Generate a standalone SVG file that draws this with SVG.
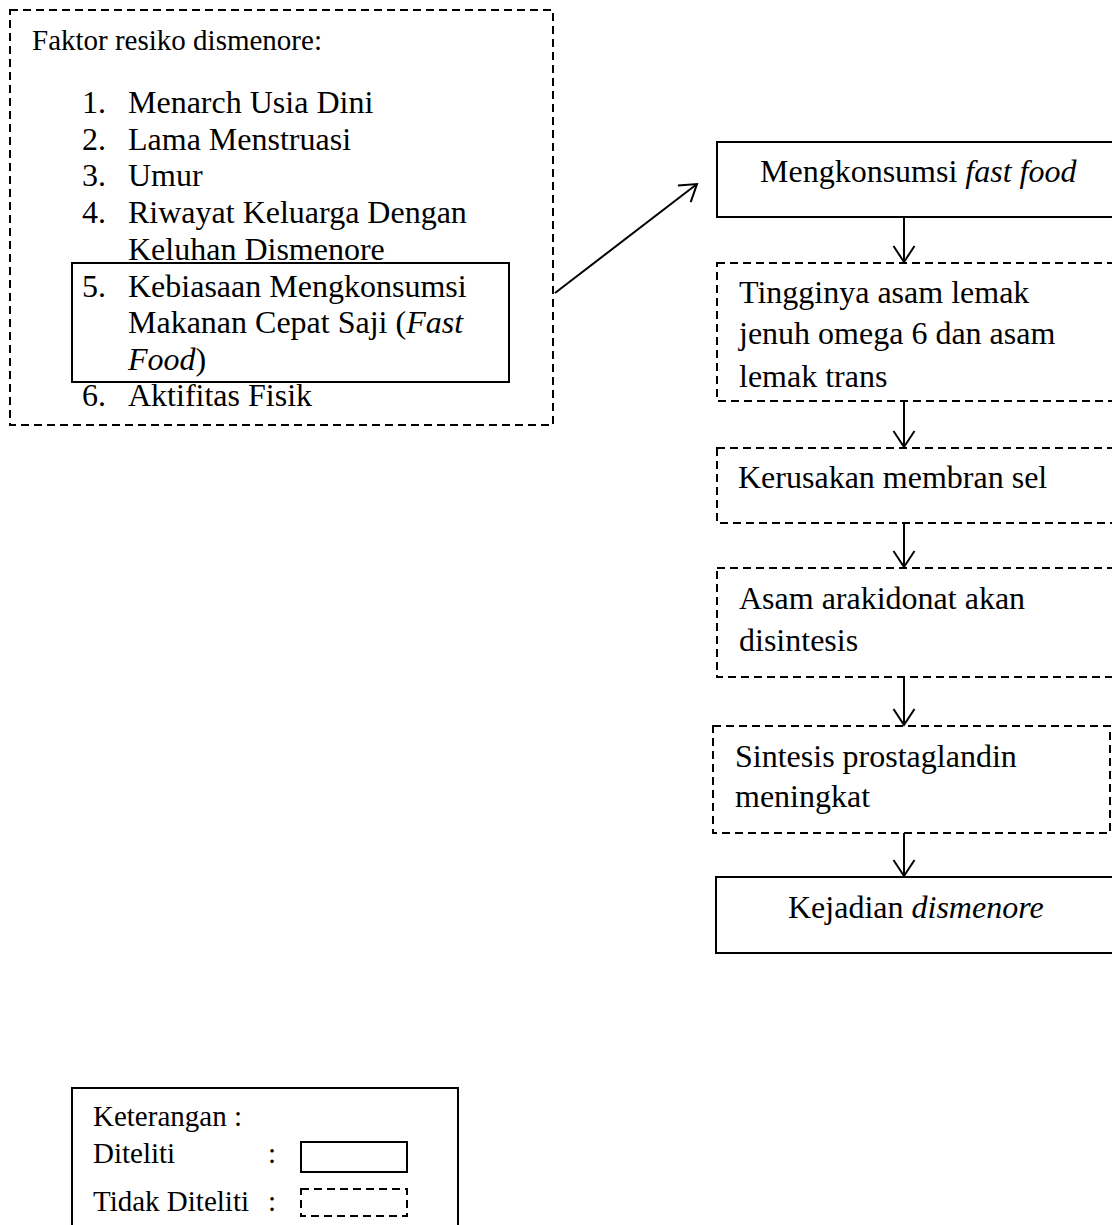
<svg xmlns="http://www.w3.org/2000/svg" width="1112" height="1225" viewBox="0 0 1112 1225">
<style>
text{font-family:"Liberation Serif","Times New Roman",serif;font-size:32px;fill:#000}
.it{font-style:italic}
.lg{font-size:29px}
.hd{font-size:29px}
.solid{fill:none;stroke:#000;stroke-width:2}
.dash{fill:none;stroke:#000;stroke-width:2;stroke-dasharray:8 5}
.conn{fill:none;stroke:#000;stroke-width:2}
</style>
<defs>
<marker id="arr" markerUnits="userSpaceOnUse" markerWidth="34" markerHeight="30" refX="17" refY="15" orient="auto" viewBox="0 0 34 30">
<path d="M1,4.5 L17,15 L1,25.5" fill="none" stroke="#000" stroke-width="2"/>
</marker>
</defs>
<g id="factors">
<rect class="dash" x="10" y="10" width="543" height="415"/>
<text class="hd" x="32" y="50">Faktor resiko dismenore:</text>
<text x="82" y="113">1.</text><text x="128" y="113">Menarch Usia Dini</text>
<text x="82" y="150">2.</text><text x="128" y="150">Lama Menstruasi</text>
<text x="82" y="186">3.</text><text x="128" y="186">Umur</text>
<text x="82" y="223">4.</text><text x="128" y="223">Riwayat Keluarga Dengan</text>
<text x="128" y="260">Keluhan Dismenore</text>
<text x="82" y="406">6.</text><text x="128" y="406">Aktifitas Fisik</text>
</g>
<g id="factor5">
<rect class="solid" x="72" y="263" width="437" height="119"/>
<text x="82" y="297">5.</text><text x="128" y="297">Kebiasaan Mengkonsumsi</text>
<text x="128" y="333">Makanan Cepat Saji (<tspan class="it">Fast</tspan></text>
<text x="128" y="370"><tspan class="it">Food</tspan>)</text>
</g>
<g id="n1">
<rect class="solid" x="717" y="142" width="410" height="75"/>
<text x="760" y="182">Mengkonsumsi <tspan class="it">fast food</tspan></text>
</g>
<g id="n2">
<rect class="dash" x="717" y="263" width="410" height="138"/>
<text x="739" y="303">Tingginya asam lemak</text>
<text x="739" y="344">jenuh omega 6 dan asam</text>
<text x="739" y="387">lemak trans</text>
</g>
<g id="n3">
<rect class="dash" x="717" y="448" width="410" height="75"/>
<text x="738" y="488">Kerusakan membran sel</text>
</g>
<g id="n4">
<rect class="dash" x="717" y="568" width="410" height="109"/>
<text x="739" y="609">Asam arakidonat akan</text>
<text x="739" y="651">disintesis</text>
</g>
<g id="n5">
<rect class="dash" x="713" y="726" width="397" height="107"/>
<text x="735" y="767">Sintesis prostaglandin</text>
<text x="735" y="807">meningkat</text>
</g>
<g id="n6">
<rect class="solid" x="716" y="877" width="410" height="76"/>
<text x="788" y="918">Kejadian <tspan class="it">dismenore</tspan></text>
</g>
<g id="connectors">
<line class="conn" x1="555" y1="293" x2="697" y2="184" marker-end="url(#arr)"/>
<line class="conn" x1="904" y1="217" x2="904" y2="262" marker-end="url(#arr)"/>
<line class="conn" x1="904" y1="401" x2="904" y2="447" marker-end="url(#arr)"/>
<line class="conn" x1="904" y1="523" x2="904" y2="567" marker-end="url(#arr)"/>
<line class="conn" x1="904" y1="677" x2="904" y2="725" marker-end="url(#arr)"/>
<line class="conn" x1="904" y1="833" x2="904" y2="876" marker-end="url(#arr)"/>
</g>
<g id="legend">
<rect class="solid" x="72" y="1088" width="386" height="150"/>
<text class="lg" x="93" y="1126">Keterangan :</text>
<text class="lg" x="93" y="1163">Diteliti</text>
<text class="lg" x="268" y="1163">:</text>
<rect class="solid" x="301" y="1142" width="106" height="30"/>
<text class="lg" x="93" y="1211">Tidak Diteliti</text>
<text class="lg" x="268" y="1211">:</text>
<rect class="dash" x="301" y="1189" width="106" height="27"/>
</g>
</svg>
